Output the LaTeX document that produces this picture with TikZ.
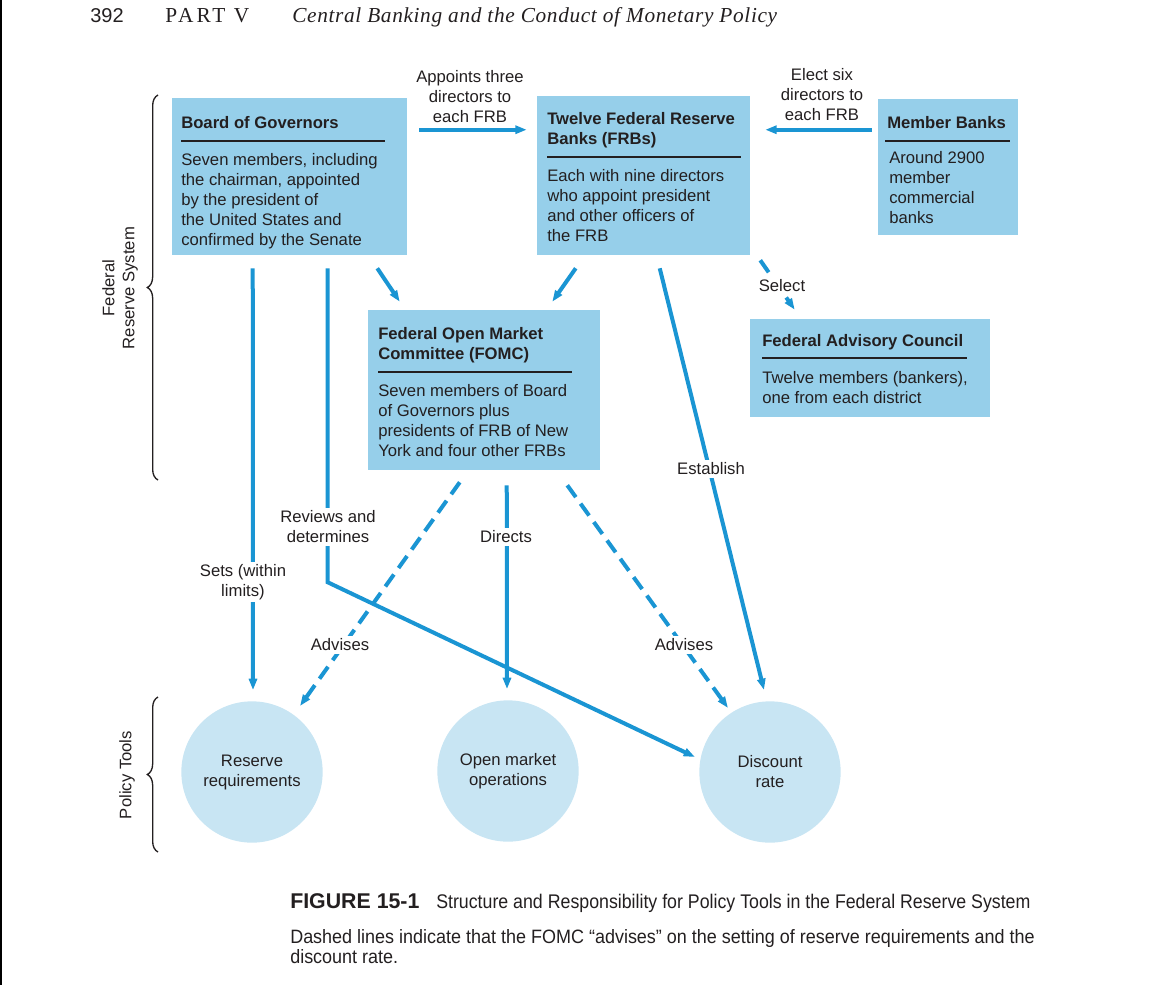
\documentclass[tikz,border=0pt]{standalone}
\usepackage{fontspec}
\setmainfont{Liberation Sans}
\newfontfamily\hdserif[LetterSpace=3]{Liberation Serif}
\newfontfamily\hdwide[LetterSpace=14]{Liberation Serif}
\newfontfamily\capnarrow[FakeStretch=0.9]{Liberation Sans}
\newfontfamily\capnarrowb[FakeStretch=0.93]{Liberation Sans}
\usetikzlibrary{arrows.meta,calc,fit,decorations.pathreplacing}
\definecolor{boxblue}{HTML}{96CFEA}
\definecolor{circblue}{HTML}{C8E5F3}
\definecolor{arrblue}{HTML}{1A95D3}
\definecolor{ink}{HTML}{231F20}
\tikzset{
  box/.style={fill=boxblue, draw=none, inner sep=0},
  ttl/.style={font=\fontsize{12.5}{15}\selectfont\bfseries, anchor=base west, align=left, inner sep=0, text=ink},
  bdy/.style={font=\fontsize{12.5}{15}\selectfont, anchor=base west, align=left, inner sep=0, text=ink},
  hrule/.style={draw=ink, line width=1.4pt},
  arr/.style={draw=arrblue, line width=3pt, -{Triangle[length=8.5pt,width=6pt]}},
  dsh/.style={arr, dash pattern=on 11pt off 6pt},
  lbl/.style={fill=white, inner sep=2pt, align=center, font=\fontsize{12.5}{15}\selectfont, text=ink},
  circ/.style={circle, fill=circblue, draw=none, minimum size=106pt, inner sep=0, align=center, font=\fontsize{12.5}{15}\selectfont, text=ink},
  bracestyle/.style={draw=ink, line width=1pt, decorate, decoration={brace, amplitude=8pt}},
  side/.style={rotate=90, align=center, font=\fontsize{12.5}{15}\selectfont, text=ink}
}
\begin{document}
\begin{tikzpicture}[x=0.75pt,y=-0.75pt]
\useasboundingbox (0,0) rectangle (1170,985);
\draw[line width=1.2pt, black] (0.8,0) -- (0.8,985);

% header
\node[anchor=base west, inner sep=0, font=\fontsize{15}{18}\selectfont, text=ink] (pg) at (90,22) {392};
\node[anchor=base west, inner sep=0, font=\hdwide\fontsize{16}{18}\selectfont, text=ink] (part) at (165,22) {PART V};
\node[anchor=base west, inner sep=0, font=\hdserif\itshape\fontsize{16}{18}\selectfont, text=ink] (chap) at (292,22) {Central Banking and the Conduct of Monetary Policy};

% boxes
\node[box, fit={(172,98) (407,255)}] (bog) {};
\node[box, fit={(537,96) (750,255)}] (frb) {};
\node[box, fit={(878,99) (1018,235)}] (mb) {};
\node[box, fit={(368,310) (600,470)}] (fomc) {};
\node[box, fit={(750,319) (990,417)}] (fac) {};

% multi-line text nodes: anchor on the baseline of the last line
\node[ttl] (bogt) at (181,128) {Board of Governors};
\draw[hrule] (181,141) -- (385,141);
\node[bdy] (bogb) at (181,245) {Seven members, including\\the chairman, appointed\\by the president of\\the United States and\\confirmed by the Senate};

\node[ttl] (frbt) at (547,144) {Twelve Federal Reserve\\Banks (FRBs)};
\draw[hrule] (547,157) -- (741,157);
\node[bdy] (frbb) at (547,241) {Each with nine directors\\who appoint president\\and other officers of\\the FRB};

\node[ttl] (mbt) at (887,128) {Member Banks};
\draw[hrule] (885,141) -- (1010,141);
\node[bdy] (mbb) at (889,223) {Around 2900\\member\\commercial\\banks};

\node[ttl] (fomct) at (378,359) {Federal Open Market\\Committee (FOMC)};
\draw[hrule] (378,372) -- (572,372);
\node[bdy] (fomcb) at (378,456) {Seven members of Board\\of Governors plus\\presidents of FRB of New\\York and four other FRBs};

\node[ttl] (fact) at (762,346) {Federal Advisory Council};
\draw[hrule] (762,358) -- (967,358);
\node[bdy] (facb) at (762,403) {Twelve members (bankers),\\one from each district};

% circles
\node[circ] (res) at (252,772) {Reserve\\requirements};
\node[circ] (ops) at (508,771) {Open market\\operations};
\node[circ] (disc) at (770,772) {Discount\\rate};

% connectors
\draw[arr] ($(bog.north east)+(12,32)$) -- ($(frb.north west)+(-10,34)$);
\draw[arr] ($(mb.north west)+(-6,31)$) -- ($(frb.north east)+(15,34)$);
\draw[arr] ($(bog.south east)+(-30,13)$) -- ($(fomc.north west)+(32,-8)$);
\draw[arr] ($(frb.south west)+(39,13)$) -- ($(fomc.north east)+(-48,-8)$);
\draw[dsh] ($(frb.south east)+(10,5)$) -- ($(fac.north west)+(45,-9)$);
\draw[arr] ($(bog.south west)+(81,13)$) -- ($(res.north)+(1,-11)$);
\draw[arr] ($(bog.south west)+(156,13)$) -- ++(0,314) -- ($(disc.center)+(-75,-15)$);
\draw[arr] ($(fomc.south west)+(139,15)$) -- ($(ops.north)+(-1,-11)$);
\draw[dsh] ($(fomc.south west)+(92,12)$) -- ($(res.center)+(48,-66)$);
\draw[dsh] ($(fomc.south east)+(-33,15)$) -- ($(disc.center)+(-42,-64)$);
\draw[arr] ($(frb.south west)+(123,13)$) -- ($(disc.center)+(-6,-82)$);

% labels
\node[lbl, fill=none] (lapp) at (470,97) {Appoints three\\directors to\\each FRB};
\node[lbl, fill=none] (lel) at (822,95) {Elect six\\directors to\\each FRB};
\node[lbl] (lsel) at (782,286) {Select};
\node[lbl] (lsets) at (243,582) {Sets (within\\limits)};
\node[lbl] (lrev) at (328,527) {Reviews and\\determines};
\node[lbl] (ldir) at (506,537) {Directs};
\node[lbl] (ladv1) at (340,645) {Advises};
\node[lbl] (ladv2) at (684,645) {Advises};
\node[lbl] (lest) at (711,469) {Establish};

% braces
\draw[bracestyle] (158,480) -- (158,95);
\draw[bracestyle] (158,852) -- (158,697);
\node[side] (lfrs) at (120,288) {Federal\\Reserve System};
\node[side] (lpt) at (127,775) {Policy Tools};

% caption
\node[anchor=base west, inner sep=0, font=\fontsize{16}{18}\selectfont\bfseries, text=ink] (fig) at (290,908) {FIGURE 15-1};
\node[anchor=base west, inner sep=0, font=\capnarrow\fontsize{14.8}{17}\selectfont, text=ink] (figt) at (436,908) {Structure and Responsibility for Policy Tools in the Federal Reserve System};
\node[anchor=base west, inner sep=0, align=left, font=\capnarrowb\fontsize{14.5}{15}\selectfont, text=ink] (figc) at (290,963) {Dashed lines indicate that the FOMC “advises” on the setting of reserve requirements and the\\discount rate.};
\end{tikzpicture}
\end{document}
